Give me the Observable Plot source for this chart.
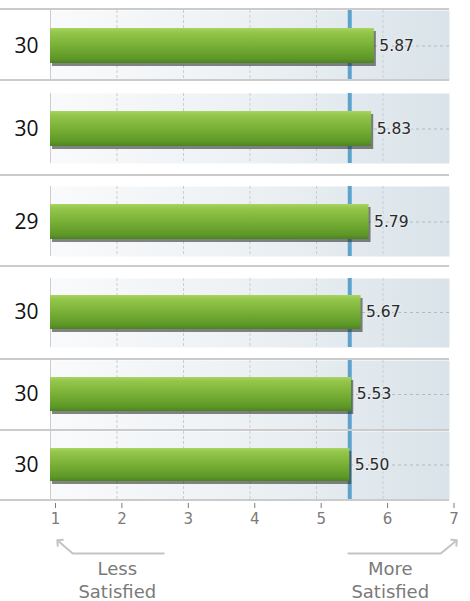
<!DOCTYPE html>
<html><head><meta charset="utf-8">
<script src="https://cdn.jsdelivr.net/npm/d3@7"></script>
<script src="https://cdn.jsdelivr.net/npm/@observablehq/plot@0.6"></script>
<style>
html,body{margin:0;padding:0;background:#fff;}
body{width:470px;height:601px;overflow:hidden;position:relative;}
.slot{position:absolute;left:0;width:470px;}
.sep{position:absolute;left:0;width:449px;height:2px;background:#cbcbcb;}
</style></head><body>
<svg width="0" height="0" style="position:absolute;left:0;top:0">
<defs>
<linearGradient id="bgGrad" x1="0" x2="1" y1="0" y2="0">
<stop offset="0" stop-color="#f9fafb"/>
<stop offset="0.45" stop-color="#eef2f5"/>
<stop offset="1" stop-color="#d9e3e9"/>
</linearGradient>
<linearGradient id="barGrad" x1="0" x2="0" y1="0" y2="1">
<stop offset="0" stop-color="#a9d462"/>
<stop offset="0.12" stop-color="#94c64b"/>
<stop offset="0.5" stop-color="#79b036"/>
<stop offset="0.88" stop-color="#5c9727"/>
<stop offset="1" stop-color="#4c8320"/>
</linearGradient>
<filter id="blur" x="-5%" y="-50%" width="110%" height="200%"><feGaussianBlur stdDeviation="2"/></filter>
</defs></svg>
<div id="chart"></div>
<script>
// ---- data ----
const respondents = [30, 30, 29, 30, 30, 30];
const scores = [5.87, 5.83, 5.79, 5.67, 5.53, 5.50];
const benchmark = 5.5;
const xTicks = [1, 2, 3, 4, 5, 6, 7];
const endLabels = ["Less\nSatisfied", "More\nSatisfied"];

// ---- layout (slot top, slot height, panel margin top, panel margin bottom) ----
const rowLayout = [[8,72,2,0],[79,95,14,11],[174,91,12,9],[265,93,13,11],[358,71,2,0],[429,71,2,1]];

const chart = document.getElementById("chart");
function place(el, top) {
  const d = document.createElement("div");
  d.className = "slot"; d.style.top = top + "px";
  d.appendChild(el); chart.appendChild(d);
}
function sep(top) {
  const d = document.createElement("div");
  d.className = "sep"; d.style.top = top + "px";
  chart.appendChild(d);
}

rowLayout.forEach(([top, h, mt, mb], i) => {
  const datum = [{id: i, score: scores[i], n: respondents[i]}];
  const p = Plot.plot({
    width: 470, height: h,
    marginLeft: 50, marginRight: 21, marginTop: mt, marginBottom: mb,
    x: {domain: [1, 7], axis: null},
    y: {domain: [i], padding: 1/3, axis: null},
    style: {fontFamily: "DejaVu Sans", background: "transparent", overflow: "visible"},
    marks: [
      Plot.frame({fill: "url(#bgGrad)", stroke: "none"}),
      Plot.ruleX(xTicks.filter(t => t > 1 && t < 7), {stroke: "#c8cfd4", strokeDasharray: "3,2"}),
      Plot.ruleY(datum, {y: "id", stroke: "#b3babf", strokeDasharray: "3,3"}),
      Plot.ruleX([xTicks[0]], {stroke: "#cdcdcd"}),
      Plot.ruleX([benchmark], {stroke: "#5ea3cb", strokeWidth: 4}),
      Plot.barX(datum, {x1: () => 1, x2: "score", y: "id", fill: "#333", fillOpacity: 0.6, dx: 2, dy: 3, ariaLabel: "shadow"}),
      Plot.barX(datum, {x1: () => 1, x2: "score", y: "id", fill: "url(#barGrad)"}),
      Plot.text(datum, {x: "score", y: "id", text: d => d.score.toFixed(2), textAnchor: "start", dx: 5,
        fill: "#2a2a2a", fontSize: 15.5, stroke: "#e5ebee", strokeWidth: 3, paintOrder: "stroke"}),
      Plot.text(datum, {y: "id", text: d => String(d.n), frameAnchor: "left", dx: -12, textAnchor: "end",
        fill: "#111", fontSize: 21, fontFamily: "Open Sans"})
    ]
  });
  d3.select(p).selectAll('g[aria-label="shadow"]').attr("filter", "url(#blur)");
  place(p, top);
  sep(top);
});
sep(499);

// ---- x axis ----
const axis = Plot.plot({
  width: 470, height: 36,
  marginLeft: 55, marginRight: 16.5, marginTop: 0, marginBottom: 32,
  x: {domain: [1, 7], ticks: xTicks, tickSize: 5, tickPadding: 5, tickFormat: d => String(d)},
  style: {color: "#7a7a7a", fontFamily: "DejaVu Sans", fontSize: "15px", background: "transparent", overflow: "visible"},
  marks: [Plot.ruleX(xTicks, {strokeOpacity: 0})]
});
place(axis, 499);

// ---- end annotations ----
const notes = Plot.plot({
  width: 470, height: 66,
  marginLeft: 55, marginRight: 16.5, marginTop: 0, marginBottom: 0,
  x: {domain: [1, 7], axis: null},
  y: {domain: [0, 1], range: [18, 6], axis: null},
  style: {fontFamily: "DejaVu Sans", background: "transparent", overflow: "visible"},
  marks: [
    Plot.line([[2.63, 0], [1.26, 0], [1.05, 1]], {stroke: "#c4c4c4", strokeWidth: 2, markerEnd: "arrow"}),
    Plot.line([[5.41, 0], [6.80, 0], [7.02, 1]], {stroke: "#c4c4c4", strokeWidth: 2, markerEnd: "arrow"}),
    Plot.text(endLabels, {x: [1.93, 6.04], text: d => d, frameAnchor: "bottom", lineAnchor: "middle",
      dy: -22.5, fill: "#7a7a7a", fontSize: 18, lineHeight: 1.27})
  ]
});
place(notes, 535);
</script>
</body></html>
